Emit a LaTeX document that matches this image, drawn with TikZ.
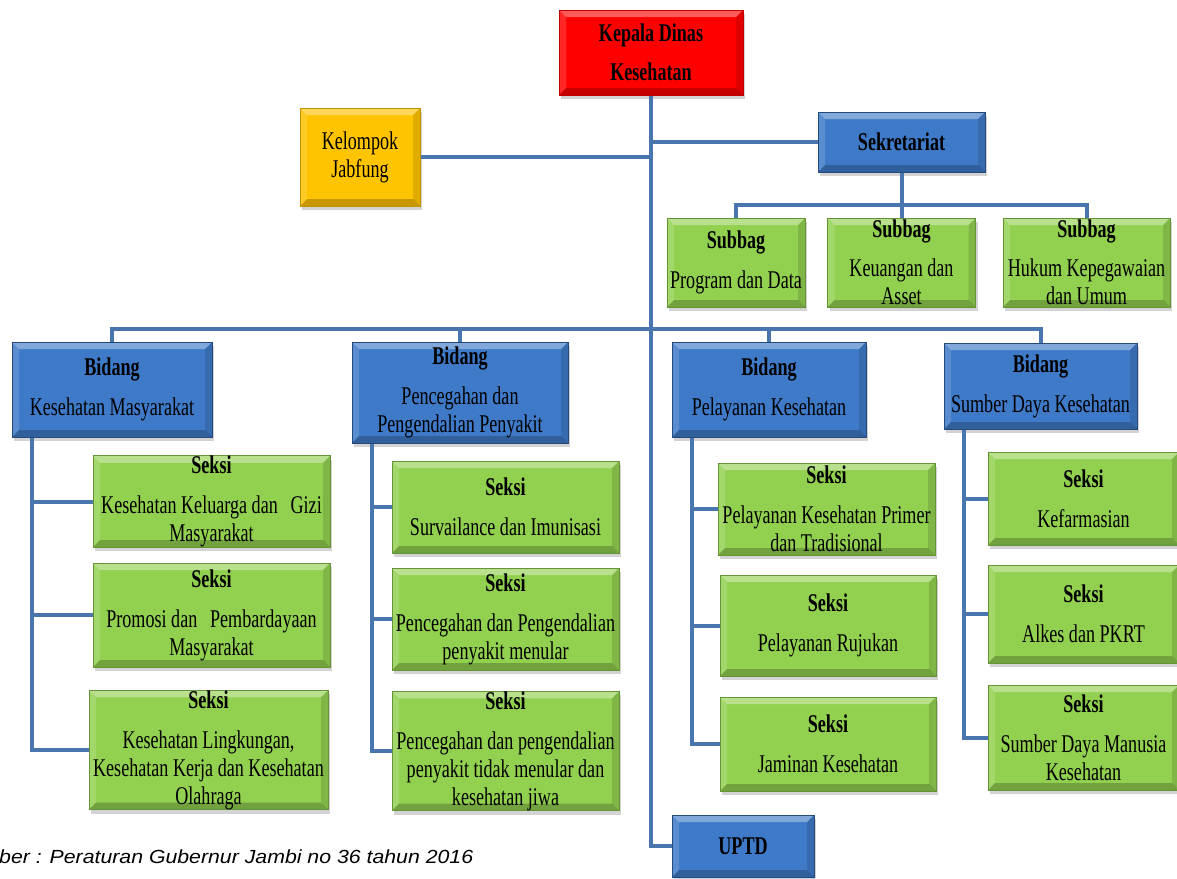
\documentclass[tikz,border=0pt]{standalone}
\usepackage{fontspec}
\setmainfont{Liberation Serif}[FakeStretch=0.71]
\newfontfamily\capfont{Liberation Sans}[FakeStretch=1.12]
\usetikzlibrary{shadows}

\definecolor{kadisred}{RGB}{255,0,0}
\definecolor{jabyellow}{RGB}{255,196,0}
\definecolor{unitblue}{RGB}{62,122,200}
\definecolor{seksigreen}{RGB}{146,208,80}
\definecolor{linkblue}{RGB}{74,118,176}

\tikzset{
  bevel/.style={path picture={
    \fill[white,opacity=0.35] (path picture bounding box.north west) -- (path picture bounding box.north east)
      -- ([xshift=-7pt,yshift=-7pt]path picture bounding box.north east) -- ([xshift=7pt,yshift=-7pt]path picture bounding box.north west) -- cycle;
    \fill[white,opacity=0.15] (path picture bounding box.north west) -- (path picture bounding box.south west)
      -- ([xshift=7pt,yshift=7pt]path picture bounding box.south west) -- ([xshift=7pt,yshift=-7pt]path picture bounding box.north west) -- cycle;
    \fill[black,opacity=0.12] (path picture bounding box.north east) -- (path picture bounding box.south east)
      -- ([xshift=-7pt,yshift=7pt]path picture bounding box.south east) -- ([xshift=-7pt,yshift=-7pt]path picture bounding box.north east) -- cycle;
    \fill[black,opacity=0.22] (path picture bounding box.south west) -- (path picture bounding box.south east)
      -- ([xshift=-7pt,yshift=7pt]path picture bounding box.south east) -- ([xshift=7pt,yshift=7pt]path picture bounding box.south west) -- cycle;
  }},
  box/.style={line width=1pt, inner sep=0pt, align=center, bevel,
    font=\fontsize{25.5}{28}\selectfont,
    drop shadow={shadow xshift=2pt, shadow yshift=-4pt, opacity=0.35}},
  boxsize/.style 2 args={minimum width=#1pt, minimum height=#2pt},
  redbox/.style={box, fill=kadisred, draw=kadisred!75!black},
  yellowbox/.style={box, fill=jabyellow, draw=jabyellow!75!black},
  bluebox/.style={box, fill=unitblue, draw=unitblue!60!black},
  greenbox/.style={box, fill=seksigreen, draw=seksigreen!70!black},
  conn/.style={draw=linkblue, line width=4pt},
}

\begin{document}
\begin{tikzpicture}[x=1pt, y=-1pt]
\clip (0,0) rectangle (1177,878);

% Pimpinan
\node[redbox, boxsize={184}{85}] (kadis) at (651,52.5) {\textbf{Kepala Dinas}\\[11pt]\textbf{Kesehatan}};
\node[yellowbox, boxsize={120}{98}] (jabfung) at (360,157) {Kelompok\\Jabfung};
\node[bluebox, boxsize={167}{60}] (sekre) at (901.5,142) {\textbf{Sekretariat}};

% Subbag
\node[greenbox, boxsize={138}{89}] (sub1) at (736,262.5) {\textbf{Subbag}\\[12pt]Program dan Data};
\node[greenbox, boxsize={148}{89}] (sub2) at (901.5,262.5) {\textbf{Subbag}\\[11pt]Keuangan dan\\Asset};
\node[greenbox, boxsize={167}{89}] (sub3) at (1086.5,262.5) {\textbf{Subbag}\\[11pt]Hukum Kepegawaian\\dan Umum};

% Bidang
\node[bluebox, boxsize={200}{95}] (bid1) at (112,389.5) {\textbf{Bidang}\\[12pt]Kesehatan Masyarakat};
\node[bluebox, boxsize={216}{101}] (bid2) at (460,392.5) {\textbf{Bidang}\\[12pt]Pencegahan dan\\Pengendalian Penyakit};
\node[bluebox, boxsize={194}{95}] (bid3) at (769,389.5) {\textbf{Bidang}\\[12pt]Pelayanan Kesehatan};
\node[bluebox, boxsize={193}{86}] (bid4) at (1040.5,386) {\textbf{Bidang}\\[12pt]Sumber Daya Kesehatan};

% Seksi
\node[greenbox, boxsize={237}{91}] (s11) at (211.5,501.5) {\textbf{Seksi}\\[12pt]Kesehatan Keluarga dan\enspace Gizi\\Masyarakat};
\node[greenbox, boxsize={237}{104}] (s12) at (211.5,615) {\textbf{Seksi}\\[12pt]Promosi dan\enspace Pembardayaan\\Masyarakat};
\node[greenbox, boxsize={239}{116}] (s13) at (208.5,750) {\textbf{Seksi}\\[12pt]Kesehatan Lingkungan,\\Kesehatan Kerja dan Kesehatan\\Olahraga};
\node[greenbox, boxsize={227}{92}] (s21) at (505.5,507) {\textbf{Seksi}\\[12pt]Survailance dan Imunisasi};
\node[greenbox, boxsize={227}{102}] (s22) at (505.5,619) {\textbf{Seksi}\\[12pt]Pencegahan dan Pengendalian\\penyakit menular};
\node[greenbox, boxsize={227}{118}] (s23) at (505.5,751) {\textbf{Seksi}\\[12pt]Pencegahan dan pengendalian\\penyakit tidak menular dan\\kesehatan jiwa};
\node[greenbox, boxsize={217}{92}] (s31) at (826.5,509) {\textbf{Seksi}\\[12pt]Pelayanan Kesehatan Primer\\dan Tradisional};
\node[greenbox, boxsize={216}{101}] (s32) at (828,625.5) {\textbf{Seksi}\\[12pt]Pelayanan Rujukan};
\node[greenbox, boxsize={216}{94}] (s33) at (828,744) {\textbf{Seksi}\\[12pt]Jaminan Kesehatan};
\node[greenbox, boxsize={191}{93}] (s41) at (1083.5,498.5) {\textbf{Seksi}\\[12pt]Kefarmasian};
\node[greenbox, boxsize={191}{98}] (s42) at (1083.5,614) {\textbf{Seksi}\\[12pt]Alkes dan PKRT};
\node[greenbox, boxsize={191}{105}] (s43) at (1083.5,737.5) {\textbf{Seksi}\\[12pt]Sumber Daya Manusia\\Kesehatan};

\node[bluebox, boxsize={142}{62}] (uptd) at (743,846) {\textbf{UPTD}};

\node[anchor=base west, inner sep=0pt, font=\capfont\itshape\fontsize{19}{20}\selectfont] (sumber) at (-1,863)
  {ber : Peraturan Gubernur Jambi no 36 tahun 2016};

% Garis
\coordinate (subbus) at (901.5,205);
\coordinate (bidbus) at (651,329);
\draw[conn] (kadis.south) |- (uptd.west);
\draw[conn] (jabfung.east) -- (jabfung.east -| kadis.south);
\draw[conn] (sekre.west) -- (sekre.west -| kadis.south);
\draw[conn] (sekre.south) -- (subbus);
\draw[conn] (sub1.north) |- (subbus) -| (sub3.north);
\draw[conn] (subbus) -- (sub2.north);
\draw[conn] (bid1.north) |- (bidbus) -| (bid4.north);
\draw[conn] (bid2.north) -- (bid2.north |- bidbus);
\draw[conn] (bid3.north) -- (bid3.north |- bidbus);
\foreach \b/\s in {bid1/s11, bid1/s12, bid1/s13, bid2/s21, bid2/s22, bid2/s23,
                   bid3/s31, bid3/s32, bid3/s33, bid4/s41, bid4/s42, bid4/s43}
  \draw[conn] (\s.west) -| ([xshift=20pt]\b.south west);
\end{tikzpicture}
\end{document}
